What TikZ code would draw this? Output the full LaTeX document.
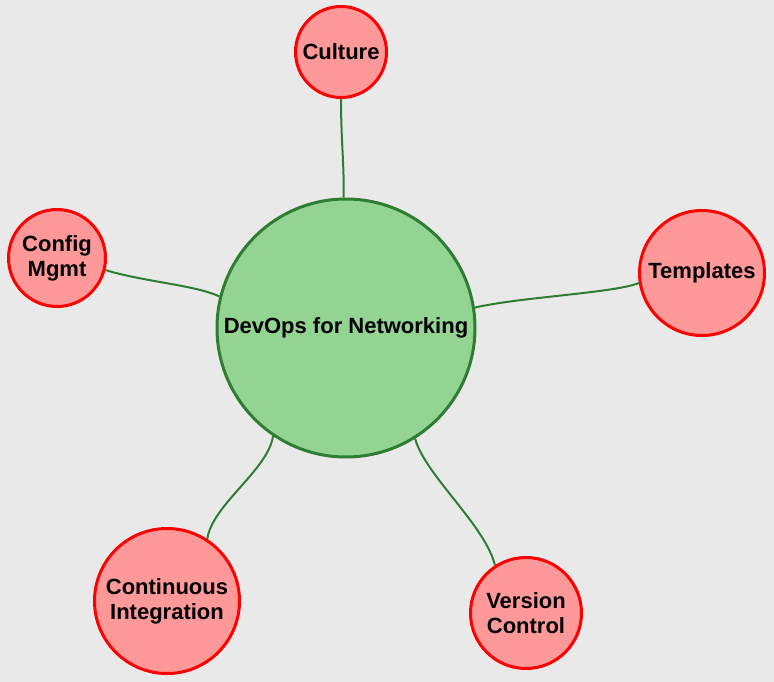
\documentclass[tikz,border=0pt]{standalone}
\usepackage{fontspec}
\setmainfont{Liberation Sans}
\definecolor{bg}{HTML}{E9E9E9}
\definecolor{hubfill}{HTML}{93D493}
\definecolor{hubdraw}{HTML}{2E7D32}
\definecolor{leaffill}{HTML}{FF9999}
\definecolor{leafdraw}{HTML}{FF0000}
\begin{document}
\begin{tikzpicture}[x=1pt,y=-1pt,
  hub/.style={circle,draw=hubdraw,fill=hubfill,line width=3pt,inner sep=0pt,
    minimum size=#1,align=center,font=\fontsize{22}{25}\selectfont\bfseries},
  leaf/.style={circle,draw=leafdraw,fill=leaffill,line width=3pt,inner sep=0pt,
    minimum size=#1,align=center,font=\fontsize{22}{25}\selectfont\bfseries},
  link/.style={draw=hubdraw,line width=2pt}]
\fill[bg] (0,0) rectangle (774,682);
\useasboundingbox (0,0) rectangle (774,682);
\node[hub=258pt] (hub) at (346,328) {DevOps for Networking};
\node[leaf=91pt] (culture) at (341,52) {Culture};
\node[leaf=125pt] (templates) at (702,273) {Templates};
\node[leaf=97pt] (config) at (57,258) {Config\\Mgmt};
\node[leaf=145pt] (ci) at (167,601) {Continuous\\Integration};
\node[leaf=111pt] (vc) at (526,613) {Version\\Control};
\draw[link] (culture.270) .. controls (341,140) and (344,160) .. (hub.91);
\draw[link] (templates.189) .. controls (615,293) and (520,297) .. (hub.9);
\draw[link] (config.346) .. controls (145,282) and (195,285) .. (hub.166);
\draw[link] (ci.57) .. controls (212,505) and (268,470) .. (hub.236);
\draw[link] (vc.123) .. controls (485,525) and (425,475) .. (hub.302);
\end{tikzpicture}
\end{document}
